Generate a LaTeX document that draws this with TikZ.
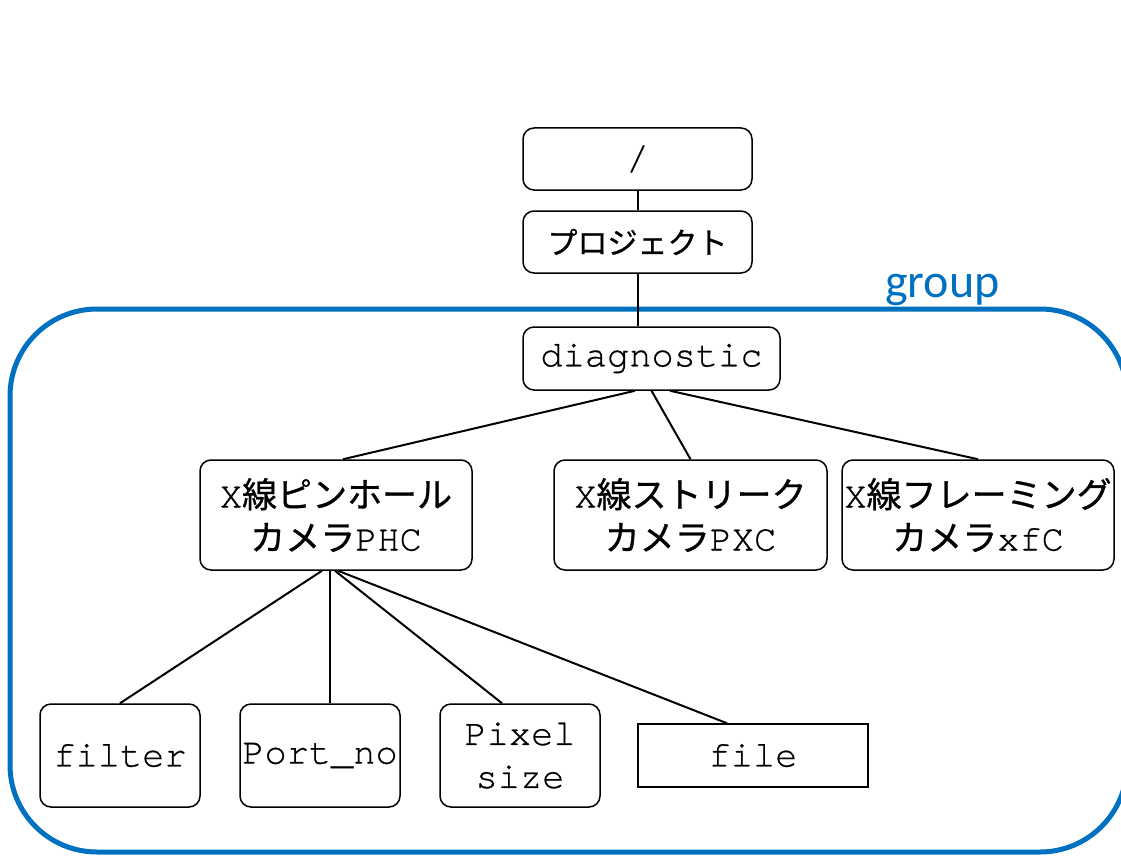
\documentclass[tikz,border=0pt]{standalone}
\usepackage{fontspec}
\setmonofont[Ligatures={NoCommon,NoRare}, FakeBold=0.6]{TeX Gyre Cursor}
\newfontfamily\jpfont[FakeBold=0.8]{Noto Sans CJK JP}
\newfontfamily\grpfont{Carlito}
\definecolor{grpblue}{RGB}{0,112,192}
\begin{document}
\begin{tikzpicture}[x=1pt,y=-1pt,
  box/.style={draw, line width=1.5pt, rounded corners=11pt, inner sep=0pt,
    align=center, font=\ttfamily\fontsize{37}{43}\selectfont},
  plainbox/.style={box, sharp corners},
  link/.style={line width=2pt},
  grouping/.style={draw=grpblue, line width=5pt, rounded corners=87pt}]
\useasboundingbox (0,0) rectangle (1121,856);
\clip (0,0) rectangle (1121,856);

% group frame
\draw[grouping] (10,309) rectangle (1127,852);
\node[anchor=base west, inner sep=0pt, text=grpblue,
  font=\grpfont\fontsize{48}{48}\selectfont] (grouplabel) at (885,297) {group};

% tree nodes
\node[box, minimum width=229pt, minimum height=62pt] (root) at (637.5,159) {/};
\node[box, minimum width=229pt, minimum height=62pt,
  font=\jpfont\fontsize{30}{36}\selectfont] (proj) at (637.5,242) {プロジェクト};
\node[box, minimum width=257pt, minimum height=63pt] (diag) at (651.5,358.5) {diagnostic};

\node[box, minimum width=272pt, minimum height=110pt] (phc) at (336,515)
  {X{\jpfont\fontsize{35}{43}\selectfont 線ピンホール}\\{\jpfont\fontsize{35}{43}\selectfont カメラ}PHC};
\node[box, minimum width=273pt, minimum height=110pt] (pxc) at (690.5,515)
  {X{\jpfont\fontsize{35}{43}\selectfont 線ストリーク}\\{\jpfont\fontsize{35}{43}\selectfont カメラ}PXC};
\node[box, minimum width=272pt, minimum height=110pt] (xfc) at (978,515)
  {X{\jpfont\fontsize{35}{43}\selectfont 線フレーミング}\\{\jpfont\fontsize{35}{43}\selectfont カメラ}xfC};

\node[box, minimum width=160pt, minimum height=103pt] (filter) at (120,755.5) {filter};
\node[box, minimum width=160pt, minimum height=103pt] (port) at (320,755.5) {Port\_no};
\node[box, minimum width=160pt, minimum height=103pt] (pixel) at (520,755.5) {Pixel\\size};
\node[plainbox, minimum width=230pt, minimum height=63pt] (file) at (753,755.5) {file};

% connectors
\draw[link] (root.south) -- (proj.north);
\draw[link] (proj.south) -- (proj.south |- diag.north);
\draw[link] ([xshift=-16.5pt]diag.south) -- ([xshift=7pt]phc.north);
\draw[link] (diag.south) -- (pxc.north);
\draw[link] ([xshift=18.5pt]diag.south) -- (xfc.north);
\draw[link] ([xshift=-14pt]phc.south) -- (filter.north);
\draw[link] ([xshift=-6pt]phc.south) -- ([xshift=10pt]port.north);
\draw[link] ([xshift=-1pt]phc.south) -- ([xshift=-18pt]pixel.north);
\draw[link] ([xshift=2pt]phc.south) -- ([xshift=-26pt]file.north);
\end{tikzpicture}
\end{document}
